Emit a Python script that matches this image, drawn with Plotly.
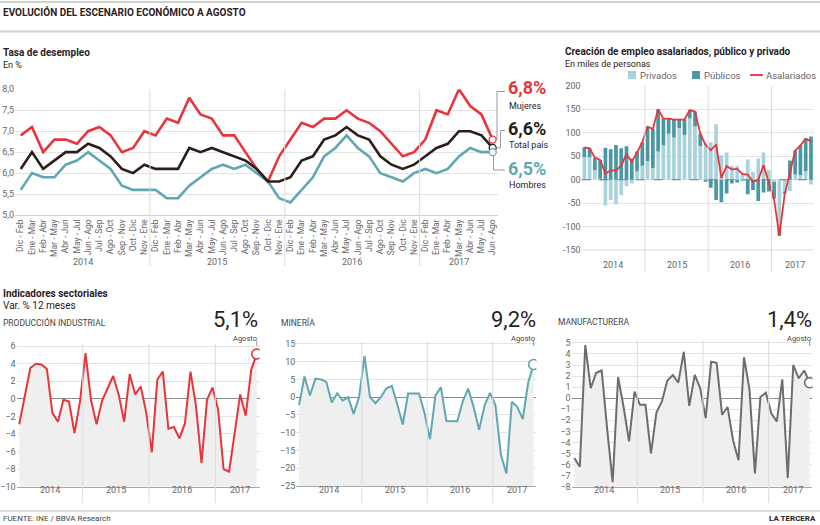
import plotly.graph_objects as go

W, H = 820, 525
def PX(x): return x / W
def PY(y): return 1 - y / H

FONT = "Roboto"
TXT = "#2b211e"
GRAY = "#666666"

# ---------------- data ----------------
meses_trim = ["Dic - Feb", "Ene - Mar", "Feb - Abr", "Mar - May", "Abr - Jun", "May - Jul",
              "Jun - Ago", "Jul - Sep", "Ago - Oct", "Sep - Nov", "Oct - Dic", "Nov - Ene"]
periodos = meses_trim * 3 + meses_trim[:7]
anios = ["2014", "2015", "2016", "2017"]

mujeres = [6.9, 7.1, 6.5, 6.8, 6.8, 6.7, 7.0, 7.1, 6.9, 6.5, 6.6, 7.0,
           6.9, 7.3, 7.2, 7.8, 7.4, 7.3, 6.9, 6.9, 6.5, 6.1, 5.8, 6.4,
           6.8, 7.2, 7.1, 7.3, 7.3, 7.5, 7.3, 7.2, 7.0, 6.7, 6.4, 6.5,
           6.8, 7.5, 7.4, 8.0, 7.6, 7.4, 6.8]
total = [6.1, 6.5, 6.1, 6.3, 6.5, 6.5, 6.7, 6.6, 6.4, 6.1, 6.0, 6.2,
         6.1, 6.1, 6.1, 6.6, 6.5, 6.6, 6.5, 6.4, 6.3, 6.1, 5.8, 5.8,
         5.9, 6.3, 6.4, 6.8, 6.9, 7.1, 6.9, 6.8, 6.4, 6.2, 6.1, 6.2,
         6.4, 6.6, 6.7, 7.0, 7.0, 6.9, 6.6]
hombres = [5.6, 6.0, 5.9, 5.9, 6.2, 6.3, 6.5, 6.3, 6.1, 5.7, 5.6, 5.6,
           5.6, 5.4, 5.4, 5.7, 5.9, 6.1, 6.2, 6.1, 6.2, 6.0, 5.8, 5.4,
           5.3, 5.6, 5.9, 6.4, 6.6, 6.9, 6.6, 6.4, 6.0, 5.9, 5.8, 6.0,
           6.1, 6.0, 6.1, 6.4, 6.6, 6.5, 6.5]
y_ticks_des = [5.0, 5.5, 6.0, 6.5, 7.0, 7.5, 8.0]
y_text_des = ["5,0", "5,5", "6,0", "6,5", "7,0", "7,5", "8,0"]

privados = [48, 48, 20, 2, -55, -43, -52, -33, -14, -8, 18, 30,
            40, 25, 60, 73, 98, 90, 110, 95, 130, 113, 72, 78,
            80, 118, 52, 58, 30, 29, 14, 43, 17, 45, 58, 20,
            -5, -100, -25, -24, 11, 10, 18, -10]
publicos = [21, 19, 27, 40, 68, 65, 74, 67, 71, 45, 42, 50,
            73, 83, 90, 57, 32, 38, 18, 33, 18, 32, 26, -4,
            -17, -43, -48, -29, -8, -6, -2, -31, -22, -45, -27, -25,
            -35, -19, -5, 41, 51, 63, 70, 92]
asalariados = [69, 67, 47, 42, 13, 20, 20, 30, 55, 38, 58, 80,
               113, 108, 150, 130, 130, 128, 128, 128, 148, 145, 98, 74,
               63, 75, 4, 29, 22, 23, 12, 11, -4, 0, 31, -8,
               -42, -119, -32, 14, 62, 73, 87, 82]
y_ticks_emp = [-150, -100, -50, 0, 50, 100, 150, 200]
y_text_emp = ["-150", "-100", "-50", "00", "50", "100", "150", "200"]

prod_industrial = [-2.9, 0.5, 3.5, 4.0, 3.9, 3.4, -1.6, -2.6, -0.1, -0.3, -3.9, -0.3,
                   5.2, -0.2, -2.9, -0.2, 1.3, 2.6, 0.5, -2.6, 2.8, 0.5, 1.4, -1.6,
                   -6.1, 2.2, 3.1, -3.4, -3.2, -4.5, -2.8, 3.1, -0.8, -7.3, -0.1, 1.3,
                   -1.2, -8.0, -8.3, -4.1, 0.5, -1.9, 3.3, 5.1]
mineria = [-2.2, 5.8, 0.5, 5.2, 5.0, 4.3, -1.5, 1.1, -1.0, 0.0, -4.7, 0.0,
           11.6, 0.0, -1.7, 0.0, 2.5, 3.2, -2.0, -7.7, 1.0, 1.1, 1.0, -4.5,
           -11.8, 0.5, 2.8, -6.7, -6.7, -6.8, -1.2, 2.4, -2.8, -9.2, -2.4, 1.2,
           -2.3, -16.2, -21.5, -1.3, -2.8, -6.2, 4.2, 9.2]
manufacturera = [-5.4, -6.2, 4.8, 0.9, 2.3, 2.5, -2.8, -7.6, 1.9, -0.8, -3.9, 0.6,
                 -0.6, -0.6, -5.0, -1.3, -0.3, 1.6, 2.1, 1.4, 4.2, -0.7, 2.1, 0.9,
                 -1.8, 3.3, 3.2, -1.5, -0.8, -3.8, -5.6, 3.7, 0.8, -6.8, 0.1, 0.5,
                 -1.4, -2.1, 1.7, -7.2, 3.0, 1.8, 2.5, 1.4]

# ---------------- styles ----------------
RED = "#e8343b"
BLACK = "#2a1d1a"
BLUE = "#5fa8b3"
LIGHT = "#a9d3dc"
DARK = "#4a97a5"
MGRAY = "#6f6d6b"
FILL = "#efefef"
GRID = "#e3e3e3"

fig = go.Figure()
xi43 = list(range(len(periodos)))
xi44 = list(range(len(privados)))

# Top-left: desempleo
for serie, col in [(hombres, BLUE), (mujeres, RED), (total, BLACK)]:
    fig.add_trace(go.Scatter(x=xi43, y=serie, mode="lines", line=dict(color=col, width=2.6),
                             xaxis="x", yaxis="y", showlegend=False, hoverinfo="skip"))
for serie, col in [(mujeres, RED), (total, BLACK), (hombres, BLUE)]:
    fig.add_trace(go.Scatter(x=[xi43[-1]], y=[serie[-1]], mode="markers",
                             marker=dict(size=7, color="white", line=dict(color=col, width=1.3)),
                             xaxis="x", yaxis="y", showlegend=False, hoverinfo="skip"))

# Top-right: empleo
fig.add_trace(go.Bar(x=xi44, y=privados, name="Privados", marker=dict(color=LIGHT, line=dict(width=0)),
                     xaxis="x2", yaxis="y2", showlegend=False))
fig.add_trace(go.Bar(x=xi44, y=publicos, name="Públicos", marker=dict(color=DARK, line=dict(width=0)),
                     xaxis="x2", yaxis="y2", showlegend=False))
fig.add_trace(go.Scatter(x=xi44, y=asalariados, name="Asalariados", mode="lines",
                         line=dict(color=RED, width=1.8), xaxis="x2", yaxis="y2", showlegend=False))

# Bottom panels
panels = [
    (prod_industrial, RED, "x3", "y3", -10, 6),
    (mineria, BLUE, "x4", "y4", -25, 15),
    (manufacturera, MGRAY, "x5", "y5", -8, 5),
]
for serie, col, xa, ya, lo, hi in panels:
    fig.add_trace(go.Scatter(x=xi44, y=[lo] * len(serie), mode="lines", line=dict(width=0),
                             xaxis=xa, yaxis=ya, showlegend=False, hoverinfo="skip"))
    fig.add_trace(go.Scatter(x=xi44, y=serie, mode="lines", line=dict(color=col, width=2),
                             fill="tonexty", fillcolor=FILL,
                             xaxis=xa, yaxis=ya, showlegend=False, hoverinfo="skip"))
    fig.add_trace(go.Scatter(x=[xi44[-1]], y=[serie[-1]], mode="markers",
                             marker=dict(size=10, color="white", line=dict(color=col, width=1.6)),
                             xaxis=xa, yaxis=ya, showlegend=False, hoverinfo="skip"))

tickfont = dict(family=FONT, size=9, color=GRAY)

layout = dict(
    width=W, height=H, margin=dict(l=0, r=0, t=0, b=0, autoexpand=False),
    paper_bgcolor="white", plot_bgcolor="white",
    barmode="relative", bargap=0.3, showlegend=False,
    font=dict(family=FONT, color=TXT),
    xaxis=dict(domain=[PX(15.1), PX(498.3)], range=[-0.5, 42.5], tickvals=xi43, ticktext=periodos,
               tickangle=-90, tickfont=dict(family=FONT, size=8.5, color=GRAY), showgrid=False,
               zeroline=False, showline=True, linecolor="#cfcfcf", ticks="", anchor="y",
               automargin=False),
    yaxis=dict(domain=[PY(215), PY(89.3)], range=[5, 8], tickvals=y_ticks_des, ticktext=y_text_des,
               tickfont=tickfont, showgrid=True, gridcolor=GRID, zeroline=False, ticks="",
               anchor="x", automargin=False),
    xaxis2=dict(domain=[PX(581.7), PX(813.6)], range=[-0.5, 43.5], showticklabels=False,
                showgrid=False, zeroline=False, ticks="", anchor="y2", automargin=False),
    yaxis2=dict(domain=[PY(250.3), PY(85.7)], range=[-150, 200], tickvals=y_ticks_emp,
                ticktext=y_text_emp, tickfont=tickfont, showgrid=True, gridcolor=GRID,
                zeroline=False, ticks="", anchor="x2", automargin=False),
)
xdoms = {"x3": (16.5, 259.5), "x4": (296.3, 536.4), "x5": (571.6, 812.4)}
ydoms = {"y3": (486.7, 343.3), "y4": (486.0, 341.0), "y5": (486.7, 340.0)}
ystep = {"y3": 2, "y4": 5, "y5": 1}
for serie, col, xa, ya, lo, hi in panels:
    n = xa[1:]
    layout["xaxis" + n] = dict(domain=[PX(xdoms[xa][0]), PX(xdoms[xa][1])], range=[-0.5, 43.5],
                               showticklabels=False, showgrid=False, zeroline=False, ticks="",
                               showline=True, linecolor="#a8a8a8", anchor=ya, automargin=False)
    layout["yaxis" + n] = dict(domain=[PY(ydoms[ya][0]), PY(ydoms[ya][1])], range=[lo, hi + 0.02 * (hi - lo)],
                               tickvals=list(range(lo, hi + 1, ystep[ya])), tickfont=tickfont,
                               showgrid=True, gridcolor=GRID, zeroline=True, zerolinecolor="#8c8c8c",
                               zerolinewidth=1, ticks="", anchor=xa, automargin=False)
fig.update_layout(**layout)

shapes = []
annots = []

def line_px(x0, y0, x1, y1, color="#d9d9d9", width=1.5):
    shapes.append(dict(type="line", xref="paper", yref="paper", x0=PX(x0), y0=PY(y0),
                       x1=PX(x1), y1=PY(y1), line=dict(color=color, width=width)))

def rect_px(x0, y0, x1, y1, color):
    shapes.append(dict(type="rect", xref="paper", yref="paper", x0=PX(x0), y0=PY(y0),
                       x1=PX(x1), y1=PY(y1), line=dict(width=0), fillcolor=color))

def text(x, y, s, size=10, color=TXT, bold=False, anchor="left", family=FONT):
    if bold:
        s = "<b>" + s + "</b>"
    annots.append(dict(xref="paper", yref="paper", x=PX(x), y=PY(y), text=s, showarrow=False,
                       xanchor=anchor, yanchor="middle", font=dict(family=family, size=size, color=color)))

# header / footer rules
line_px(0, 2, 820, 2, "#d0d0d0", 2)
line_px(0, 31.5, 820, 31.5, "#d0d0d0", 2)
line_px(0, 511, 820, 511, "#d0d0d0", 1.5)

text(1, 12, "EVOLUCIÓN DEL ESCENARIO ECONÓMICO A AGOSTO", 10, TXT, True)
text(1, 52, "Tasa de desempleo", 10, TXT, True)
text(1, 65, "En %", 9, TXT)
text(563, 52, "Creación de empleo asalariados, público y privado", 10, TXT, True)
text(563, 64, "En miles de personas", 9, TXT)
text(1, 293, "Indicadores sectoriales", 10, TXT, True)
text(1, 305, "Var. % 12 meses", 10, TXT)
text(1, 322, "PRODUCCIÓN INDUSTRIAL", 8.5, "#444")
text(279, 322, "MINERÍA", 8.5, "#444")
text(556, 322, "MANUFACTURERA", 8.5, "#444")
text(1, 518, "FUENTE: INE / BBVA Research", 8, "#444")
text(818, 518, "LA TERCERA", 8, TXT, True, "right")

# manual legend for employment chart
rect_px(628, 71, 636, 79, LIGHT)
text(638, 75.5, "Privados", 9.5, GRAY)
rect_px(692, 71, 700, 79, DARK)
text(702, 75.5, "Públicos", 9.5, GRAY)
line_px(750, 75, 763, 75, RED, 1.8)
text(764, 75.5, "Asalariados", 9.5, GRAY)

# desempleo: end labels and connectors
text(506, 88, "6,8%", 18, RED, True)
text(507, 105.5, "Mujeres", 9, TXT)
text(506, 128, "6,6%", 18, BLACK, True)
text(507, 144.5, "Total país", 9, TXT)
text(506, 168.5, "6,5%", 18, BLUE, True)
text(507, 185, "Hombres", 9, TXT)
CON = "#9a9a9a"
for path in ["M {} {} L {} {} L {} {} L {} {}".format(PX(495.5), PY(139.4), PX(497), PY(139.4), PX(497), PY(91.5), PX(505), PY(91.5)),
             "M {} {} L {} {} L {} {} L {} {}".format(PX(495.5), PY(147.8), PX(500.5), PY(147.8), PX(500.5), PY(130.5), PX(505), PY(130.5)),
             "M {} {} L {} {} L {} {}".format(PX(493.5), PY(155), PX(493.5), PY(170), PX(505), PY(170))]:
    shapes.append(dict(type="path", xref="paper", yref="paper", path=path,
                       line=dict(color=CON, width=1)))

# year separators and labels
year_centers_43 = [5.5, 17.5, 29.5, 39]
year_centers_44 = [5.5, 17.5, 29.5, 40]
for b in [11.5, 23.5, 35.5]:
    shapes.append(dict(type="line", xref="x", yref="paper", x0=b, x1=b, y0=PY(266), y1=PY(89.3),
                       line=dict(color="#dcdcdc", width=1)))
    shapes.append(dict(type="line", xref="x2", yref="paper", x0=b, x1=b, y0=PY(272), y1=PY(85.7),
                       line=dict(color="#dcdcdc", width=1)))
    for xa, top in [("x3", 343.3), ("x4", 341), ("x5", 340)]:
        shapes.append(dict(type="line", xref=xa, yref="paper", x0=b, x1=b, y0=PY(503), y1=PY(top),
                           line=dict(color="#dcdcdc", width=1)))
for i, a in enumerate(anios):
    annots.append(dict(xref="x", yref="paper", x=year_centers_43[i], y=PY(262), text=a, showarrow=False,
                       font=dict(family=FONT, size=9, color=GRAY)))
    annots.append(dict(xref="x2", yref="paper", x=year_centers_44[i], y=PY(265), text=a, showarrow=False,
                       font=dict(family=FONT, size=9, color=GRAY)))
    for xa in ["x3", "x4", "x5"]:
        annots.append(dict(xref=xa, yref="paper", x=year_centers_44[i], y=PY(497), text=a, showarrow=False,
                           font=dict(family=FONT, size=9, color=GRAY)))

# dashed zero line / bottom line for employment chart
shapes.append(dict(type="line", xref="x2 domain", yref="y2", x0=0, x1=1, y0=0, y1=0,
                   line=dict(color="#7a7a7a", width=1, dash="dash")))
shapes.append(dict(type="line", xref="x2 domain", yref="y2", x0=0, x1=1, y0=-150, y1=-150,
                   line=dict(color="#a8a8a8", width=1)))

# bottom big values
for (serie, col, xa, ya, lo, hi), big, right in zip(panels, ["5,1%", "9,2%", "1,4%"], [260, 538, 814]):
    text(right, 319, big, 22, TXT, False, "right")
    text(right - 1, 338, "Agosto", 7.5, "#444", False, "right")
    shapes.append(dict(type="line", xref=xa, yref="paper", x0=xi44[-1], x1=xi44[-1],
                       y0=PY(341), y1=PY(346), line=dict(color="#9a9a9a", width=1)))

fig.update_layout(shapes=shapes, annotations=annots)
fig.write_html("out.html", config={"displayModeBar": False},
               post_script="document.body.style.margin='0';document.body.style.overflow='hidden';")
